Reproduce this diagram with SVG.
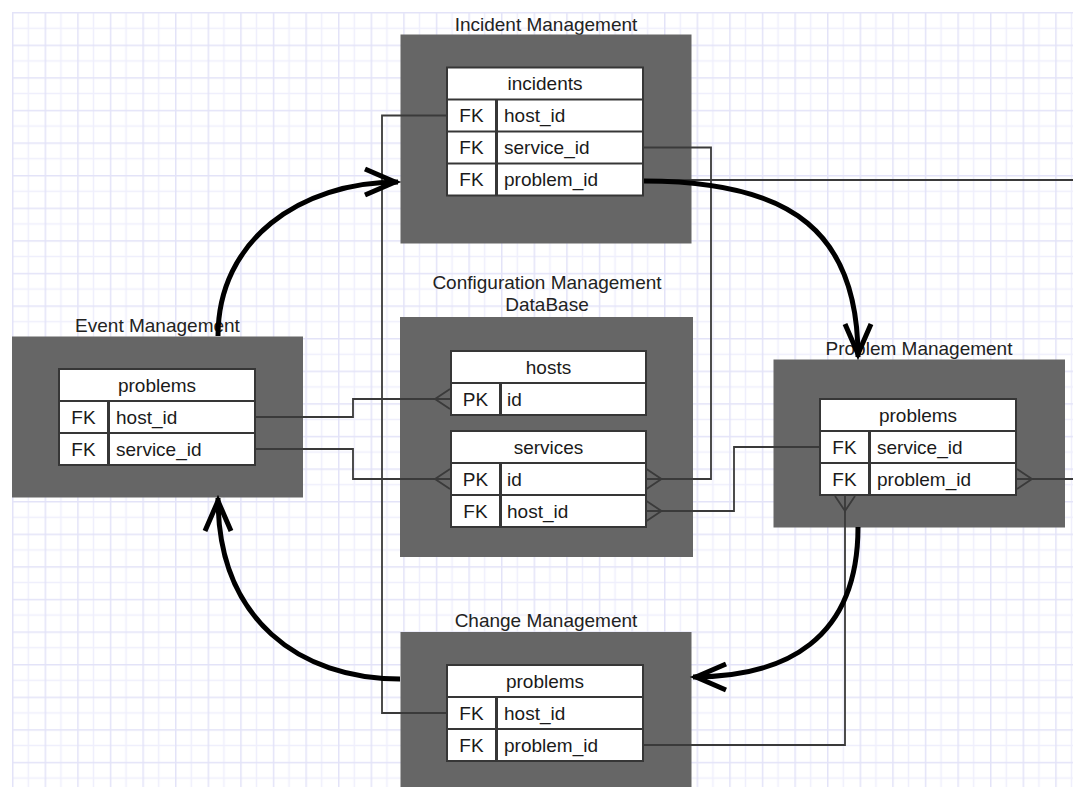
<svg xmlns="http://www.w3.org/2000/svg" width="1073" height="787" viewBox="0 0 1073 787">
<style>
.box{fill:#666666}
.tbl{fill:#363636}
.cell{fill:#ffffff}
.t{font-family:"Liberation Sans",Arial,sans-serif;font-size:19px;fill:#1a1a1a}
.ttl{font-family:"Liberation Sans",Arial,sans-serif;font-size:19px;fill:#222222;text-anchor:middle}
.c{text-anchor:middle}
.thin{fill:none;stroke:#3a3a3a;stroke-width:1.8}
.thick{fill:none;stroke:#000000;stroke-width:5}
</style>
<defs>
<pattern id="grid" x="12" y="12" width="32.6" height="32.6" patternUnits="userSpaceOnUse">
<path d="M16.3,0 V32.6 M0,16.3 H32.6" stroke="#efeffc" stroke-width="1.5" fill="none"/>
<path d="M0.75,0 V32.6 M0,0.75 H32.6" stroke="#e3e3f8" stroke-width="1.5" fill="none"/>
</pattern>
<marker id="many" markerUnits="userSpaceOnUse" orient="auto" refX="0" refY="0" markerWidth="40" markerHeight="40" viewBox="-20 -20 40 40" overflow="visible">
<path d="M0,-10 L-15,0 L0,10" fill="none" stroke="#3a3a3a" stroke-width="1.8"/>
</marker>
<marker id="arrow" markerUnits="userSpaceOnUse" orient="auto" refX="0" refY="0" markerWidth="80" markerHeight="80" viewBox="-40 -40 80 80" overflow="visible">
<path d="M-33,-13 L-3,0 L-33,13" fill="none" stroke="#000000" stroke-width="5"/>
</marker>
</defs>
<rect x="0" y="0" width="1073" height="787" fill="#ffffff"/>
<rect x="12" y="12" width="1061" height="775" fill="url(#grid)"/>

<g id="incident-management">
<text class="ttl" x="546" y="30.5">Incident Management</text>
<rect class="box" x="400.5" y="34.5" width="291" height="209"/>
<rect class="tbl" x="446" y="66.5" width="198" height="130"/>
<rect class="cell" x="448" y="68.5" width="194" height="30"/>
<text class="t c" x="545" y="90">incidents</text>
<rect class="cell" x="448" y="100.5" width="47" height="30"/>
<rect class="cell" x="498" y="100.5" width="144" height="30"/>
<text class="t c" x="471.5" y="122">FK</text><text class="t" x="504" y="122">host_id</text>
<rect class="cell" x="448" y="132.5" width="47" height="30"/>
<rect class="cell" x="498" y="132.5" width="144" height="30"/>
<text class="t c" x="471.5" y="154">FK</text><text class="t" x="504" y="154">service_id</text>
<rect class="cell" x="448" y="164.5" width="47" height="30"/>
<rect class="cell" x="498" y="164.5" width="144" height="30"/>
<text class="t c" x="471.5" y="186">FK</text><text class="t" x="504" y="186">problem_id</text>
</g>

<g id="event-management">
<text class="ttl" x="157.5" y="331.5">Event Management</text>
<rect class="box" x="12" y="336.5" width="291" height="161"/>
<rect class="tbl" x="58" y="368" width="198" height="98"/>
<rect class="cell" x="60" y="370" width="194" height="30"/>
<text class="t c" x="157" y="391.5">problems</text>
<rect class="cell" x="60" y="402" width="47" height="30"/>
<rect class="cell" x="110" y="402" width="144" height="30"/>
<text class="t c" x="83.5" y="423.5">FK</text><text class="t" x="116" y="423.5">host_id</text>
<rect class="cell" x="60" y="434" width="47" height="30"/>
<rect class="cell" x="110" y="434" width="144" height="30"/>
<text class="t c" x="83.5" y="455.5">FK</text><text class="t" x="116" y="455.5">service_id</text>
</g>

<g id="cmdb">
<text class="ttl" x="547" y="288.5">Configuration Management</text>
<text class="ttl" x="547" y="310.5">DataBase</text>
<rect class="box" x="400" y="317" width="293" height="240"/>
<rect class="tbl" x="450" y="350" width="197" height="66"/>
<rect class="cell" x="452" y="352" width="193" height="30"/>
<text class="t c" x="548.5" y="373.5">hosts</text>
<rect class="cell" x="452" y="384" width="47" height="30"/>
<rect class="cell" x="502" y="384" width="143" height="30"/>
<text class="t c" x="475.5" y="405.5">PK</text><text class="t" x="507" y="405.5">id</text>
<rect class="tbl" x="450" y="430" width="197" height="98"/>
<rect class="cell" x="452" y="432" width="193" height="30"/>
<text class="t c" x="548.5" y="453.5">services</text>
<rect class="cell" x="452" y="464" width="47" height="30"/>
<rect class="cell" x="502" y="464" width="143" height="30"/>
<text class="t c" x="475.5" y="485.5">PK</text><text class="t" x="507" y="485.5">id</text>
<rect class="cell" x="452" y="496" width="47" height="30"/>
<rect class="cell" x="502" y="496" width="143" height="30"/>
<text class="t c" x="475.5" y="517.5">FK</text><text class="t" x="507" y="517.5">host_id</text>
</g>

<g id="problem-management">
<text class="ttl" x="919" y="355">Problem Management</text>
<rect class="box" x="773.5" y="359.5" width="291.5" height="168"/>
<rect class="tbl" x="819" y="398" width="198" height="98"/>
<rect class="cell" x="821" y="400" width="194" height="30"/>
<text class="t c" x="918" y="421.5">problems</text>
<rect class="cell" x="821" y="432" width="47" height="30"/>
<rect class="cell" x="871" y="432" width="144" height="30"/>
<text class="t c" x="844.5" y="453.5">FK</text><text class="t" x="877" y="453.5">service_id</text>
<rect class="cell" x="821" y="464" width="47" height="30"/>
<rect class="cell" x="871" y="464" width="144" height="30"/>
<text class="t c" x="844.5" y="485.5">FK</text><text class="t" x="877" y="485.5">problem_id</text>
</g>

<g id="change-management">
<text class="ttl" x="546" y="627">Change Management</text>
<rect class="box" x="400.5" y="632" width="291" height="170"/>
<rect class="tbl" x="446" y="664" width="198" height="98"/>
<rect class="cell" x="448" y="666" width="194" height="30"/>
<text class="t c" x="545" y="687.5">problems</text>
<rect class="cell" x="448" y="698" width="47" height="30"/>
<rect class="cell" x="498" y="698" width="144" height="30"/>
<text class="t c" x="471.5" y="719.5">FK</text><text class="t" x="504" y="719.5">host_id</text>
<rect class="cell" x="448" y="730" width="47" height="30"/>
<rect class="cell" x="498" y="730" width="144" height="30"/>
<text class="t c" x="471.5" y="751.5">FK</text><text class="t" x="504" y="751.5">problem_id</text>
</g>

<g id="connectors">
<path class="thin" d="M446,115.5 H382 V713 H446"/>
<path class="thin" d="M644,147.5 H711 V479 H646.5" marker-end="url(#many)"/>
<path class="thin" d="M644,180 H1073"/>
<path class="thin" d="M256,417 H353 V399 H450" marker-end="url(#many)"/>
<path class="thin" d="M256,449 H353 V479 H450" marker-end="url(#many)"/>
<path class="thin" d="M819,447 H734 V511 H646.5" marker-end="url(#many)"/>
<path class="thin" d="M1073,479 H1017" marker-end="url(#many)"/>
<path class="thin" d="M644,745 H845 V496" marker-end="url(#many)"/>
<path class="thick" d="M218,336 C218,240 300,182 398,182" marker-end="url(#arrow)"/>
<path class="thick" d="M644,181 C795,181 858,235 858,357" marker-end="url(#arrow)"/>
<path class="thick" d="M858,527 C858,640 785,677 693,677" marker-end="url(#arrow)"/>
<path class="thick" d="M400,679 C300,679 218,620 218,498" marker-end="url(#arrow)"/>
</g>
</svg>
